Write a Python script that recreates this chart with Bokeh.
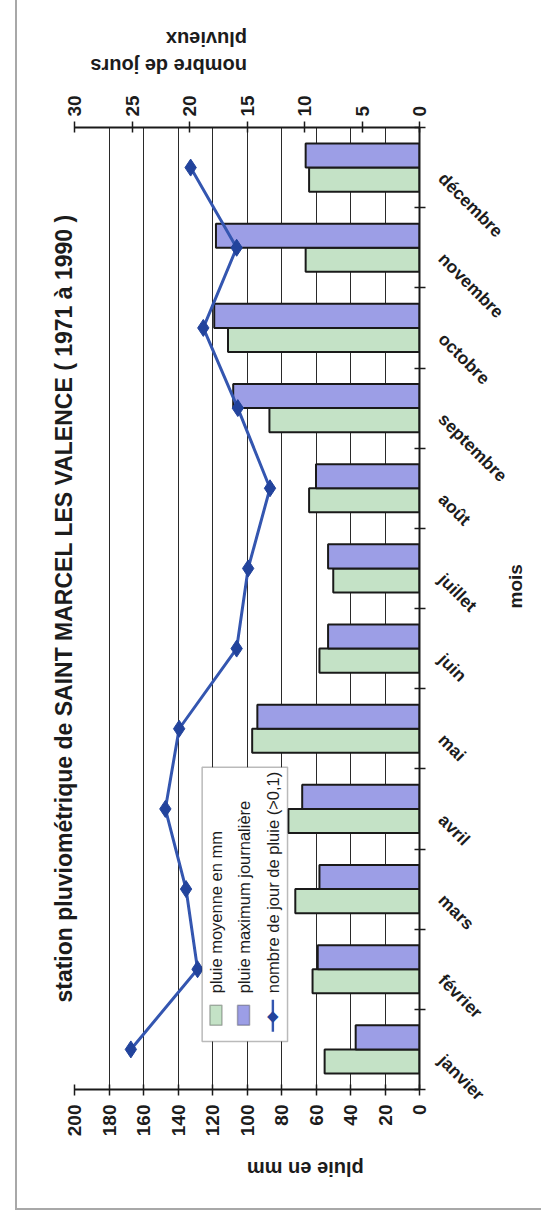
from math import pi
from bokeh.plotting import figure
from bokeh.models import (Range1d, LinearAxis, FixedTicker, Label, Title,
                          BoxAnnotation, ColumnDataSource)
from bokeh.transform import dodge
from bokeh.embed import file_html
from bokeh.resources import INLINE

# ---------------- data ----------------
months = ["janvier", "février", "mars", "avril", "mai", "juin", "juillet",
          "août", "septembre", "octobre", "novembre", "décembre"]
pluie_moyenne = [55, 62, 72, 76, 97, 58, 50, 64, 87, 111, 66, 64]
pluie_max_jour = [37, 59, 58, 68, 94, 53, 53, 60, 108, 119, 118, 66]
jours_pluie = [25.1, 19.3, 20.3, 22.1, 20.9, 15.9, 14.9, 13.0, 15.8, 18.8, 15.9, 19.9]
mm_ticks = [0, 20, 40, 60, 80, 100, 120, 140, 160, 180, 200]
jours_ticks = [0, 5, 10, 15, 20, 25, 30]

title_text = "station pluviométrique de SAINT MARCEL LES VALENCE ( 1971 à 1990 )"
legend_labels = ["pluie moyenne en mm", "pluie maximum journalière",
                 "nombre de jour de pluie (>0,1)"]

# ---------------- style ----------------
FONT = "Liberation Sans"
TXT = "#1c1c1c"
GREEN = "#c4e2c6"
PURPLE = "#9c9ee6"
EDGE = "#1a1a1a"
LINE = "#3456b0"
MARK = "#22439c"

n = len(months)
pos = [i + 0.5 for i in range(n)]          # category centres on the month scale
bounds = [float(i) for i in range(n + 1)]  # category boundaries (tick marks)
label_pos = [c - 0.1 for c in pos]         # month-name anchors, slightly below centre

p = figure(width=526, height=1210, output_backend="svg", toolbar_location=None,
           x_range=Range1d(200, 0), y_range=Range1d(0, n),
           x_axis_location="below", y_axis_location="right",
           min_border_left=57, min_border_right=124,
           min_border_top=125, min_border_bottom=121)
p.margin = (0, 0, 0, 15)
p.styles = {"border-left": "2px solid #a8a8a8", "border-bottom": "2px solid #a8a8a8"}
p.outline_line_color = None
p.background_fill_color = "white"
p.border_fill_color = "white"
p.extra_x_ranges = {"jours": Range1d(30, 0)}

# grid
p.ygrid.visible = False
p.xgrid.ticker = FixedTicker(ticks=mm_ticks)
p.xgrid.grid_line_color = "#2a2a2a"
p.xgrid.grid_line_width = 1


def style_axis(ax):
    ax.axis_line_color = EDGE
    ax.axis_line_width = 2
    ax.major_tick_line_color = EDGE
    ax.major_tick_line_width = 1.5
    ax.major_tick_in = 5
    ax.major_tick_out = 6
    ax.minor_tick_line_color = None
    ax.major_label_text_font = FONT
    ax.major_label_text_font_style = "bold"
    ax.major_label_text_font_size = "19px"
    ax.major_label_text_color = TXT
    ax.axis_label_text_font = FONT
    ax.axis_label_text_font_style = "bold"
    ax.axis_label_text_font_size = "20px"
    ax.axis_label_text_color = TXT


def set_label_angle(ax, angle):
    try:
        ax.axis_label_orientation = angle
    except Exception:
        pass


# bottom axis (pluie en mm)
xa = p.xaxis[0]
xa.ticker = FixedTicker(ticks=mm_ticks)
style_axis(xa)
xa.major_label_orientation = pi / 2
xa.major_label_standoff = 9
xa.axis_label = "pluie en mm"
xa.axis_label_standoff = 30
set_label_angle(xa, pi)

# top axis (nombre de jours)
ta = LinearAxis(x_range_name="jours", ticker=FixedTicker(ticks=jours_ticks))
style_axis(ta)
ta.major_label_orientation = pi / 2
ta.major_label_standoff = 5
ta.axis_label = "nombre de jours\npluvieux"
ta.axis_label_standoff = 40
ta.axis_label_text_font_size = "20px"
set_label_angle(ta, pi)
p.add_layout(ta, "above")

# right axis: month names, tick marks between months (minor ticks)
ma = p.yaxis[0]
ma.ticker = FixedTicker(ticks=label_pos, minor_ticks=bounds)
ma.major_label_overrides = {c: m for c, m in zip(label_pos, months)}
style_axis(ma)
ma.major_tick_line_color = None
ma.major_tick_in = 0
ma.major_tick_out = 0
ma.minor_tick_line_color = EDGE
ma.minor_tick_line_width = 1.5
ma.minor_tick_in = 5
ma.minor_tick_out = 6
ma.major_label_orientation = -pi / 4
ma.major_label_standoff = 16
ma.major_label_text_font_size = "17.5px"
ma.axis_label = "mois"
ma.axis_label_standoff = -6
ma.axis_label_text_font_size = "19px"
set_label_angle(ma, pi / 2)

# title (reads bottom-to-top on the left)
p.add_layout(Title(text=title_text, align="center", text_font=FONT,
                   text_font_style="bold", text_font_size="23px",
                   standoff=-4, text_color=TXT), "left")

src = ColumnDataSource(dict(month=months, pos=pos, moy=pluie_moyenne,
                            mx=pluie_max_jour, jours=jours_pluie))

p.hbar(y=dodge("pos", -0.15), left=0, right="moy", height=0.3,
       source=src, fill_color=GREEN, line_color=EDGE, line_width=2)
p.hbar(y=dodge("pos", 0.15), left=0, right="mx", height=0.3,
       source=src, fill_color=PURPLE, line_color=EDGE, line_width=2)

p.line(x="jours", y="pos", source=src, x_range_name="jours",
       line_color=LINE, line_width=3)
p.scatter(x="jours", y="pos", source=src, x_range_name="jours",
          marker="diamond", size=17, fill_color=MARK, line_color=MARK)

# legend (rotated, drawn by hand inside the plot area)
p.add_layout(BoxAnnotation(left=126, right=76.5, bottom=0.6, top=4.02,
                           fill_color="white", fill_alpha=1, line_color=EDGE,
                           line_width=1.5, level="overlay"))
sw = [(121.5, 114.5, GREEN), (105.5, 98.5, PURPLE)]
for (l, r, c) in sw:
    p.add_layout(BoxAnnotation(left=l, right=r, bottom=0.8, top=1.05,
                               fill_color=c, fill_alpha=1, line_color=EDGE,
                               line_width=1.5, level="overlay"))
p.add_layout(BoxAnnotation(left=85.7, right=84.3, bottom=0.72, top=1.12,
                           fill_color=LINE, fill_alpha=1, line_color=None, level="overlay"))
p.add_layout(Label(x=85, y=0.92, text="◆", text_align="center",
                   text_baseline="middle", text_font="DejaVu Sans", text_font_size="15px",
                   text_color=MARK, level="overlay"))
for j, t in enumerate(legend_labels):
    p.add_layout(Label(x=118 - j * 16.5, y=1.2, text=t, angle=pi / 2,
                       text_align="left", text_baseline="middle", text_font=FONT,
                       text_font_size="16.5px", text_color=TXT, level="overlay"))

open("out.html", "w").write(file_html(p, INLINE))
